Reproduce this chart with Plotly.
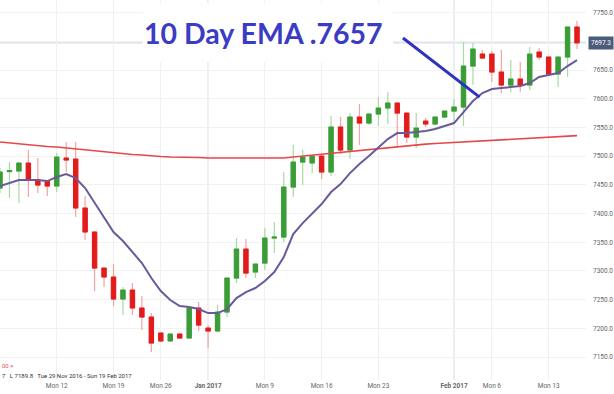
import plotly.graph_objects as go

DATES = [
    "2016-12-05", "2016-12-06", "2016-12-07", "2016-12-08", "2016-12-09", "2016-12-11",
    "2016-12-12", "2016-12-13", "2016-12-14", "2016-12-15", "2016-12-16", "2016-12-18",
    "2016-12-19", "2016-12-20", "2016-12-21", "2016-12-22", "2016-12-23",
    "2016-12-26", "2016-12-27", "2016-12-28", "2016-12-29", "2016-12-30",
    "2017-01-02", "2017-01-03", "2017-01-04", "2017-01-05", "2017-01-06", "2017-01-08",
    "2017-01-09", "2017-01-10", "2017-01-11", "2017-01-12", "2017-01-13", "2017-01-15",
    "2017-01-16", "2017-01-17", "2017-01-18", "2017-01-19", "2017-01-20", "2017-01-22",
    "2017-01-23", "2017-01-24", "2017-01-25", "2017-01-26", "2017-01-27", "2017-01-29",
    "2017-01-30", "2017-01-31", "2017-02-01", "2017-02-02", "2017-02-03", "2017-02-05",
    "2017-02-06", "2017-02-07", "2017-02-08", "2017-02-09", "2017-02-10", "2017-02-12",
    "2017-02-13", "2017-02-14", "2017-02-15", "2017-02-16",
]

OPEN = [
    7444.4, 7473.0, 7474.0, 7487.9, 7458.3, 7456.6,
    7447.9, 7496.7, 7494.9, 7409.6, 7367.8, 7305.0,
    7289.4, 7251.0, 7266.7, 7235.4, 7219.7,
    7191.8, 7177.9, 7190.1, 7183.1, 7235.4,
    7200.5, 7195.3, 7228.4, 7287.6, 7338.1, 7298.1,
    7313.7, 7357.3, 7359.0, 7446.1, 7489.7, 7488.0,
    7500.1, 7472.3, 7550.7, 7510.6, 7568.1, 7557.6,
    7573.3, 7583.8, 7592.5, 7575.0, 7533.2, 7561.1,
    7555.9, 7568.1, 7578.5, 7585.5, 7656.9, 7677.8,
    7677.8, 7646.5, 7623.8, 7634.3, 7623.8, 7681.3,
    7672.6, 7643.0, 7672.6, 7724.9,
]
HIGH = [
    7479.2, 7489.7, 7489.7, 7510.6, 7496.7, 7458.3,
    7505.4, 7524.5, 7524.5, 7430.5, 7369.0, 7306.0,
    7312.0, 7271.9, 7278.9, 7256.3, 7226.6,
    7193.6, 7191.0, 7191.0, 7236.0, 7245.8,
    7205.7, 7240.6, 7288.0, 7357.3, 7355.6, 7313.0,
    7374.7, 7385.2, 7472.3, 7519.3, 7510.6, 7500.5,
    7501.0, 7569.8, 7568.1, 7575.0, 7590.7, 7574.0,
    7602.9, 7611.6, 7593.0, 7576.0, 7575.0, 7566.3,
    7569.0, 7579.0, 7599.4, 7698.7, 7697.0, 7684.8,
    7683.1, 7684.8, 7667.4, 7663.9, 7690.0, 7688.3,
    7673.0, 7673.0, 7725.5, 7735.3,
]
LOW = [
    7435.7, 7427.0, 7418.3, 7428.7, 7435.7, 7430.5,
    7437.4, 7472.3, 7393.9, 7353.8, 7265.0, 7271.9,
    7238.8, 7223.2, 7223.2, 7197.0, 7158.7,
    7176.1, 7177.0, 7182.0, 7182.0, 7195.3,
    7165.7, 7195.0, 7219.7, 7278.9, 7287.6, 7287.6,
    7301.6, 7331.2, 7350.3, 7428.7, 7449.6, 7470.0,
    7460.1, 7465.3, 7503.6, 7494.9, 7519.3, 7554.1,
    7552.4, 7555.9, 7517.6, 7522.8, 7514.1, 7550.7,
    7555.0, 7566.3, 7555.9, 7552.4, 7623.8, 7669.1,
    7629.0, 7609.9, 7611.6, 7611.6, 7615.1, 7667.4,
    7641.0, 7620.3, 7637.8, 7686.5,
]
CLOSE = [
    7472.3, 7475.0, 7487.9, 7458.3, 7449.6, 7447.9,
    7498.4, 7493.2, 7409.6, 7367.8, 7305.0, 7289.4,
    7251.0, 7266.7, 7235.4, 7219.7, 7174.4,
    7177.9, 7190.1, 7183.1, 7235.4, 7205.7,
    7195.3, 7228.4, 7287.6, 7338.1, 7296.3, 7312.0,
    7357.3, 7359.0, 7446.1, 7489.7, 7498.4, 7500.0,
    7472.3, 7550.7, 7510.6, 7568.1, 7557.6, 7573.3,
    7583.8, 7592.5, 7575.0, 7533.2, 7548.9, 7555.9,
    7568.1, 7578.5, 7585.5, 7656.9, 7686.5, 7670.9,
    7646.5, 7623.8, 7634.3, 7623.8, 7677.8, 7672.6,
    7643.0, 7672.6, 7724.9, 7697.3,
]
EMA10 = [
    7447.9, 7453.1, 7458.3, 7458.3, 7458.3, 7456.6,
    7463.6, 7468.8, 7461.8, 7444.4, 7418.3, 7393.9,
    7367.8, 7352.1, 7332.9, 7313.7, 7287.6,
    7265.0, 7249.3, 7238.8, 7237.1, 7233.6,
    7226.6, 7226.6, 7233.6, 7252.8, 7263.2, 7270.2,
    7282.4, 7298.1, 7324.2, 7364.3, 7383.4, 7400.8,
    7416.5, 7437.4, 7451.4, 7470.5, 7486.2, 7500.1,
    7514.1, 7529.8, 7540.2, 7540.2, 7542.0, 7543.7,
    7547.2, 7552.4, 7557.6, 7576.8, 7596.0, 7609.9,
    7616.9, 7618.6, 7620.3, 7622.1, 7627.3, 7637.8,
    7641.2, 7644.7, 7656.9, 7667.4,
]
MA_SLOW = [
    7524.5, 7522.8, 7521.0, 7520.2, 7518.4, 7516.7,
    7515.8, 7514.1, 7512.3, 7510.6, 7508.9, 7507.1,
    7506.2, 7504.5, 7502.8, 7501.9, 7500.1,
    7499.3, 7498.4, 7498.4, 7497.5, 7497.5,
    7496.7, 7496.7, 7496.7, 7496.7, 7496.7, 7496.7,
    7496.7, 7496.7, 7496.7, 7498.4, 7500.1, 7501.9,
    7503.6, 7504.5, 7506.2, 7508.0, 7509.7, 7511.5,
    7513.2, 7514.9, 7516.7, 7517.6, 7519.3, 7521.0,
    7521.9, 7522.8, 7523.6, 7524.5, 7526.3, 7527.1,
    7528.0, 7528.9, 7529.8, 7530.6, 7531.5, 7532.4,
    7533.2, 7534.1, 7535.0, 7535.8,
]

TICK_DATES = ["2016-12-12", "2016-12-19", "2016-12-26", "2017-01-02", "2017-01-09",
              "2017-01-16", "2017-01-23", "2017-02-01", "2017-02-06", "2017-02-13"]
TICK_TEXT = ["Mon 12", "Mon 19", "Mon 26", "<b>Jan 2017</b>", "Mon 9",
             "Mon 16", "Mon 23", "<b>Feb 2017</b>", "Mon 6", "Mon 13"]
MONTH_STARTS = ["2017-01-02", "2017-02-01"]
Y_TICKS = [7150, 7200, 7250, 7300, 7350, 7400, 7450, 7500, 7550, 7600, 7650, 7700, 7750]
Y_TICK_TEXT = ["7150.0", "7200.0", "7250.0", "7300.0", "7350.0", "7400.0", "7450.0",
               "7500.0", "7550.0", "7600.0", "7650.0", "", "7750.0"]
LAST_PRICE = 7697.3
CALLOUT_TEXT = "10 Day EMA .7657"
CALLOUT_LINE = {"x0": 42.6, "y0": 7705.7, "x1": 50.7, "y1": 7602.9}
INFO_LINE_1 = "00 ×"
INFO_LINE_2 = "7   L 7189.8   Tue 29 Nov 2016 - Sun 19 Feb 2017"

GREEN = "#3a9d37"
RED = "#e31b1b"
GREEN_WICK = "#a9d9a4"
RED_WICK = "#f4a3a3"

fig = go.Figure()

# wicks (light colour)
fig.add_trace(go.Candlestick(
    x=DATES, open=OPEN, high=HIGH, low=LOW, close=CLOSE,
    increasing=dict(line=dict(color=GREEN_WICK, width=1.2), fillcolor=GREEN_WICK),
    decreasing=dict(line=dict(color=RED_WICK, width=1.2), fillcolor=RED_WICK),
    showlegend=False, hoverinfo="skip",
))
# bodies (strong colour)
body_hi = [max(o, c) for o, c in zip(OPEN, CLOSE)]
body_lo = [min(o, c) for o, c in zip(OPEN, CLOSE)]
fig.add_trace(go.Candlestick(
    x=DATES, open=OPEN, high=body_hi, low=body_lo, close=CLOSE,
    increasing=dict(line=dict(color=GREEN, width=1), fillcolor=GREEN),
    decreasing=dict(line=dict(color=RED, width=1), fillcolor=RED),
    showlegend=False, hoverinfo="skip",
))
fig.add_trace(go.Scatter(x=DATES, y=MA_SLOW, mode="lines",
                         line=dict(color="#e8474a", width=1.6), showlegend=False))
fig.add_trace(go.Scatter(x=DATES, y=EMA10, mode="lines",
                         line=dict(color="#6a5a9a", width=2), showlegend=False))

# month separators
for d in MONTH_STARTS:
    i = DATES.index(d)
    fig.add_shape(type="line", xref="x", yref="paper", x0=i, x1=i, y0=0, y1=1,
                  line=dict(color="#d6d6d6", width=1), layer="below")

# last price line
fig.add_shape(type="line", xref="paper", yref="y", x0=0, x1=1, y0=LAST_PRICE, y1=LAST_PRICE,
              line=dict(color="#cdd4df", width=1), layer="below")

PLOT_W, PLOT_H = 586, 380
# white cover behind the callout text
fig.add_shape(type="rect", xref="paper", yref="paper",
              x0=143 / PLOT_W, x1=393 / PLOT_W, y0=1 - 62 / PLOT_H, y1=1 - 3 / PLOT_H,
              fillcolor="white", line=dict(width=0), layer="above")
# callout line
fig.add_shape(type="line", xref="x", yref="y", **CALLOUT_LINE,
              line=dict(color="#2e33bd", width=3), layer="above")

fig.add_annotation(text="<b>" + CALLOUT_TEXT + "</b>", xref="paper", yref="paper",
                   x=142 / PLOT_W, y=1 - 33 / PLOT_H, xanchor="left", yanchor="middle",
                   showarrow=False, font=dict(family="Lato", size=28.5, color="#3a3dc4"))

fig.add_annotation(text=f"{LAST_PRICE:.1f}", xref="paper", yref="y", x=1, y=LAST_PRICE,
                   xanchor="left", yanchor="middle", showarrow=False, xshift=2,
                   bgcolor="#4b5c7b", borderpad=2,
                   font=dict(family="Roboto", size=6.5, color="white"))

fig.add_annotation(text=INFO_LINE_1, xref="paper", yref="paper", x=0, y=1 - 365 / PLOT_H,
                   xanchor="left", yanchor="middle", showarrow=False,
                   font=dict(family="Roboto", size=6, color="#e8504f"))
fig.add_annotation(text=INFO_LINE_2, xref="paper", yref="paper", x=0, y=1 - 375 / PLOT_H,
                   xanchor="left", yanchor="middle", showarrow=False,
                   font=dict(family="Roboto", size=6, color="#333333"))

fig.update_layout(
    width=614, height=394,
    margin=dict(l=0, r=28, t=0, b=14),
    paper_bgcolor="white", plot_bgcolor="white",
    boxgap=0.35,
    xaxis=dict(type="category", range=[0.0, 61.95], rangeslider=dict(visible=False),
               tickmode="array", tickvals=TICK_DATES, ticktext=TICK_TEXT,
               showgrid=True, gridcolor="#f0f0f0", gridwidth=1,
               tickfont=dict(family="Roboto", size=6.5, color="#666666"),
               showline=False, zeroline=False, ticks=""),
    yaxis=dict(side="right", range=[7110, 7772], tickmode="array",
               tickvals=Y_TICKS, ticktext=Y_TICK_TEXT,
               showgrid=True, gridcolor="#f2f2f2", gridwidth=1,
               tickfont=dict(family="Roboto", size=6.5, color="#666666"),
               ticklabelstandoff=6, showline=False, zeroline=False, ticks=""),
    font=dict(family="Roboto"),
)

fig.write_html("out.html", config={"displayModeBar": False},
               post_script="document.body.style.margin='0';")
